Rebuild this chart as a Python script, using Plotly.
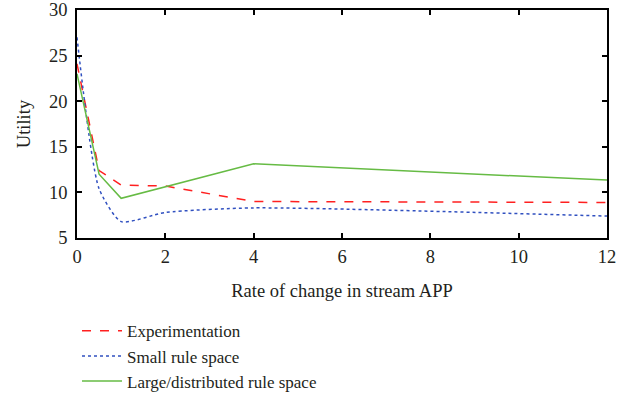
import plotly.graph_objects as go

x_vals = [0, 0.5, 1, 2, 4, 12]
experimentation = [24.1, 12.4, 10.8, 10.7, 9.0, 8.9]
small_rule = [27.0, 10.4, 6.8, 7.8, 8.3, 7.4]
large_rule = [23.0, 12.0, 9.35, 10.6, 13.13, 11.35]

font_family = "Liberation Serif"
fsize = 18.5
fig = go.Figure()
fig.add_trace(go.Scatter(x=x_vals, y=experimentation, mode="lines", name="Experimentation",
                         line=dict(color="#ff2020", width=1.5, dash="dash")))
fig.add_trace(go.Scatter(x=x_vals, y=small_rule, mode="lines", name="Small rule space",
                         line=dict(color="#3050c0", width=1.5, dash="dot", shape="spline", smoothing=0.6)))
fig.add_trace(go.Scatter(x=x_vals, y=large_rule, mode="lines", name="Large/distributed rule space",
                         line=dict(color="#66bb44", width=1.5)))

axis_common = dict(showgrid=False, zeroline=False, showline=True, linecolor="black", linewidth=1.5,
                   mirror="ticks", ticks="inside", ticklen=5, tickcolor="black", tickwidth=1.5,
                   automargin=False,
                   tickfont=dict(family=font_family, size=fsize, color="#231f20"))
fig.update_xaxes(range=[0, 12], tickvals=[0, 2, 4, 6, 8, 10, 12], ticklabelstandoff=1,
                 title=dict(text="Rate of change in stream APP", font=dict(family=font_family, size=fsize, color="#231f20"), standoff=18),
                 **axis_common)
fig.update_yaxes(range=[5, 30], tickvals=[5, 10, 15, 20, 25, 30], ticklabelstandoff=4,
                 title=dict(text="Utility", font=dict(family=font_family, size=fsize, color="#231f20"), standoff=14),
                 **axis_common)
fig.update_layout(width=630, height=402, margin=dict(l=77, r=23, t=10, b=164, autoexpand=False),
                  plot_bgcolor="white", paper_bgcolor="white",
                  legend=dict(x=0.0, y=-0.33, xanchor="left", yanchor="top",
                              font=dict(family=font_family, size=17, color="#231f20"),
                              tracegroupgap=0, itemwidth=40, bgcolor="rgba(0,0,0,0)"))
fig.write_html("out.html")
